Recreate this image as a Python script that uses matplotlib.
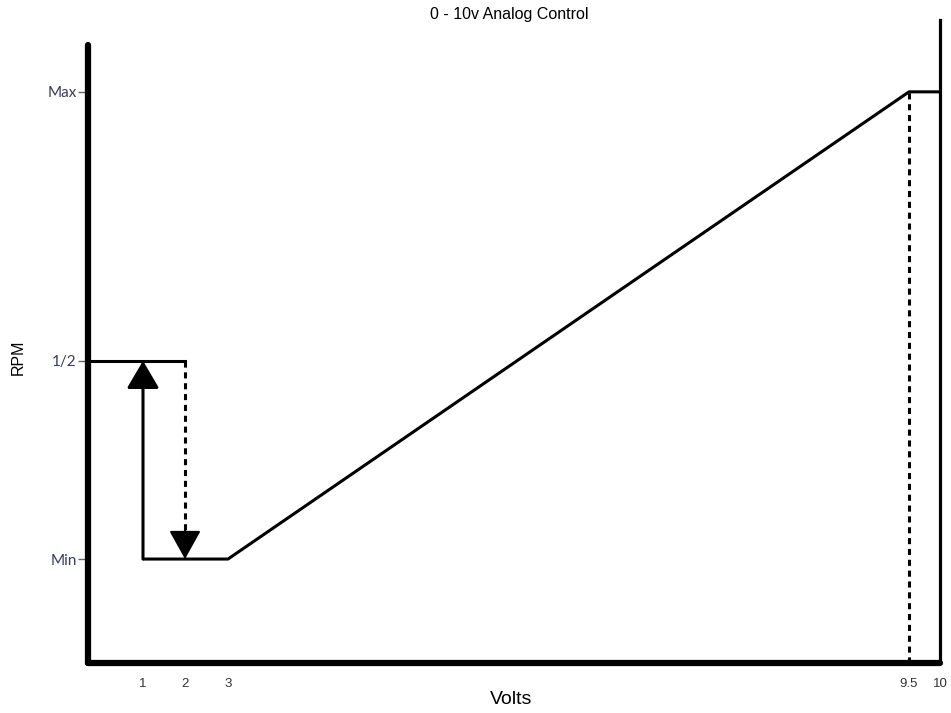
import numpy as np
import matplotlib
matplotlib.use("Agg")
import matplotlib.pyplot as plt

# ---- data ----
RPM_MIN = 0.182
RPM_HALF = 0.529
RPM_MAX = 1.0

x_ticks = [1, 2, 3, 9.5, 10]
x_tick_labels = ["1", "2", "3", "9.5", "10"]
y_ticks = [RPM_MIN, RPM_HALF, RPM_MAX]
y_tick_labels = ["Min", "1/2", "Max"]

# speed curve: flat at min, ramp up, flat at max
ramp_volts = [1, 3, 9.5, 10]
ramp_rpm = [RPM_MIN, RPM_MIN, RPM_MAX, RPM_MAX]

# start-up kick to half speed
kick_volts = [0, 2]
kick_rpm = [RPM_HALF, RPM_HALF]

# the axis is not drawn to scale: piecewise mapping of volts to screen
_v = [-1, 0, 1, 2, 3, 9.5, 10, 11]
_p = [33, 88, 143, 185, 228, 909, 940, 1002]


def fwd(v):
    return np.interp(v, _v, _p)


def inv(p):
    return np.interp(p, _p, _v)


fig = plt.figure(figsize=(9.51, 7.13), dpi=100)
ax = fig.add_axes([88 / 951, 1 - 663 / 713, (940 - 88) / 951, (663 - 45) / 713])
ax.set_xscale("function", functions=(fwd, inv))
ax.set_xlim(0, 10)
ax.set_ylim(0, 1.082)

lw = 2.2
dash = (0, (2, 1.55))
ax.plot(ramp_volts, ramp_rpm, color="black", lw=lw, solid_capstyle="butt")
ax.plot(kick_volts, kick_rpm, color="black", lw=lw)

# up arrow at 1v (min -> half)
ax.annotate("", xy=(1, RPM_HALF), xytext=(1, RPM_MIN),
            arrowprops=dict(arrowstyle="-|>,head_length=1.7,head_width=1.0",
                            color="black", lw=lw, shrinkA=0, shrinkB=0))

# dashed drop at 2v (half -> min)
ax.plot([2, 2], [RPM_HALF, RPM_MIN + 0.04], color="black", lw=lw,
        linestyle=dash)
ax.annotate("", xy=(2, RPM_MIN), xytext=(2, RPM_MIN + 0.05),
            arrowprops=dict(arrowstyle="-|>,head_length=1.8,head_width=1.0",
                            color="black", lw=1.5, shrinkA=0, shrinkB=0))

# dashed marker at 9.5v
ax.plot([9.5, 9.5], [0, RPM_MAX], color="black", lw=lw, linestyle=dash)

# 10v limit line, runs above the plot area
ax.plot([10, 10], [0, 1.126], color="black", lw=2.3, clip_on=False)

for side in ["top", "right"]:
    ax.spines[side].set_visible(False)
for side in ["left", "bottom"]:
    ax.spines[side].set_linewidth(4.5)
    ax.spines[side].set_capstyle("round")

ax.set_xticks(x_ticks)
ax.set_xticklabels(x_tick_labels, family="Liberation Sans", fontsize=9.5,
                   color="#333333")
ax.tick_params(axis="x", length=0, pad=11)
ax.xaxis.set_minor_locator(matplotlib.ticker.NullLocator())

ax.set_yticks(y_ticks)
ax.set_yticklabels(y_tick_labels, family="Lato", fontsize=11,
                   color="#3a3a5a")
ax.tick_params(axis="y", length=7, width=1, color="#666666", pad=1)

fig.text(509 / 951, 1 - 15 / 713, "0 - 10v Analog Control", ha="center",
         va="center", family="Liberation Sans", fontsize=11.5)
fig.text(511 / 951, 1 - 699 / 713, "Volts", ha="center", va="center",
         family="Liberation Sans", fontsize=14)
fig.text(18 / 951, 1 - 357 / 713, "RPM", ha="center", va="center",
         rotation=90, family="Liberation Sans", fontsize=11.5)

fig.savefig("out.png", dpi=100)
